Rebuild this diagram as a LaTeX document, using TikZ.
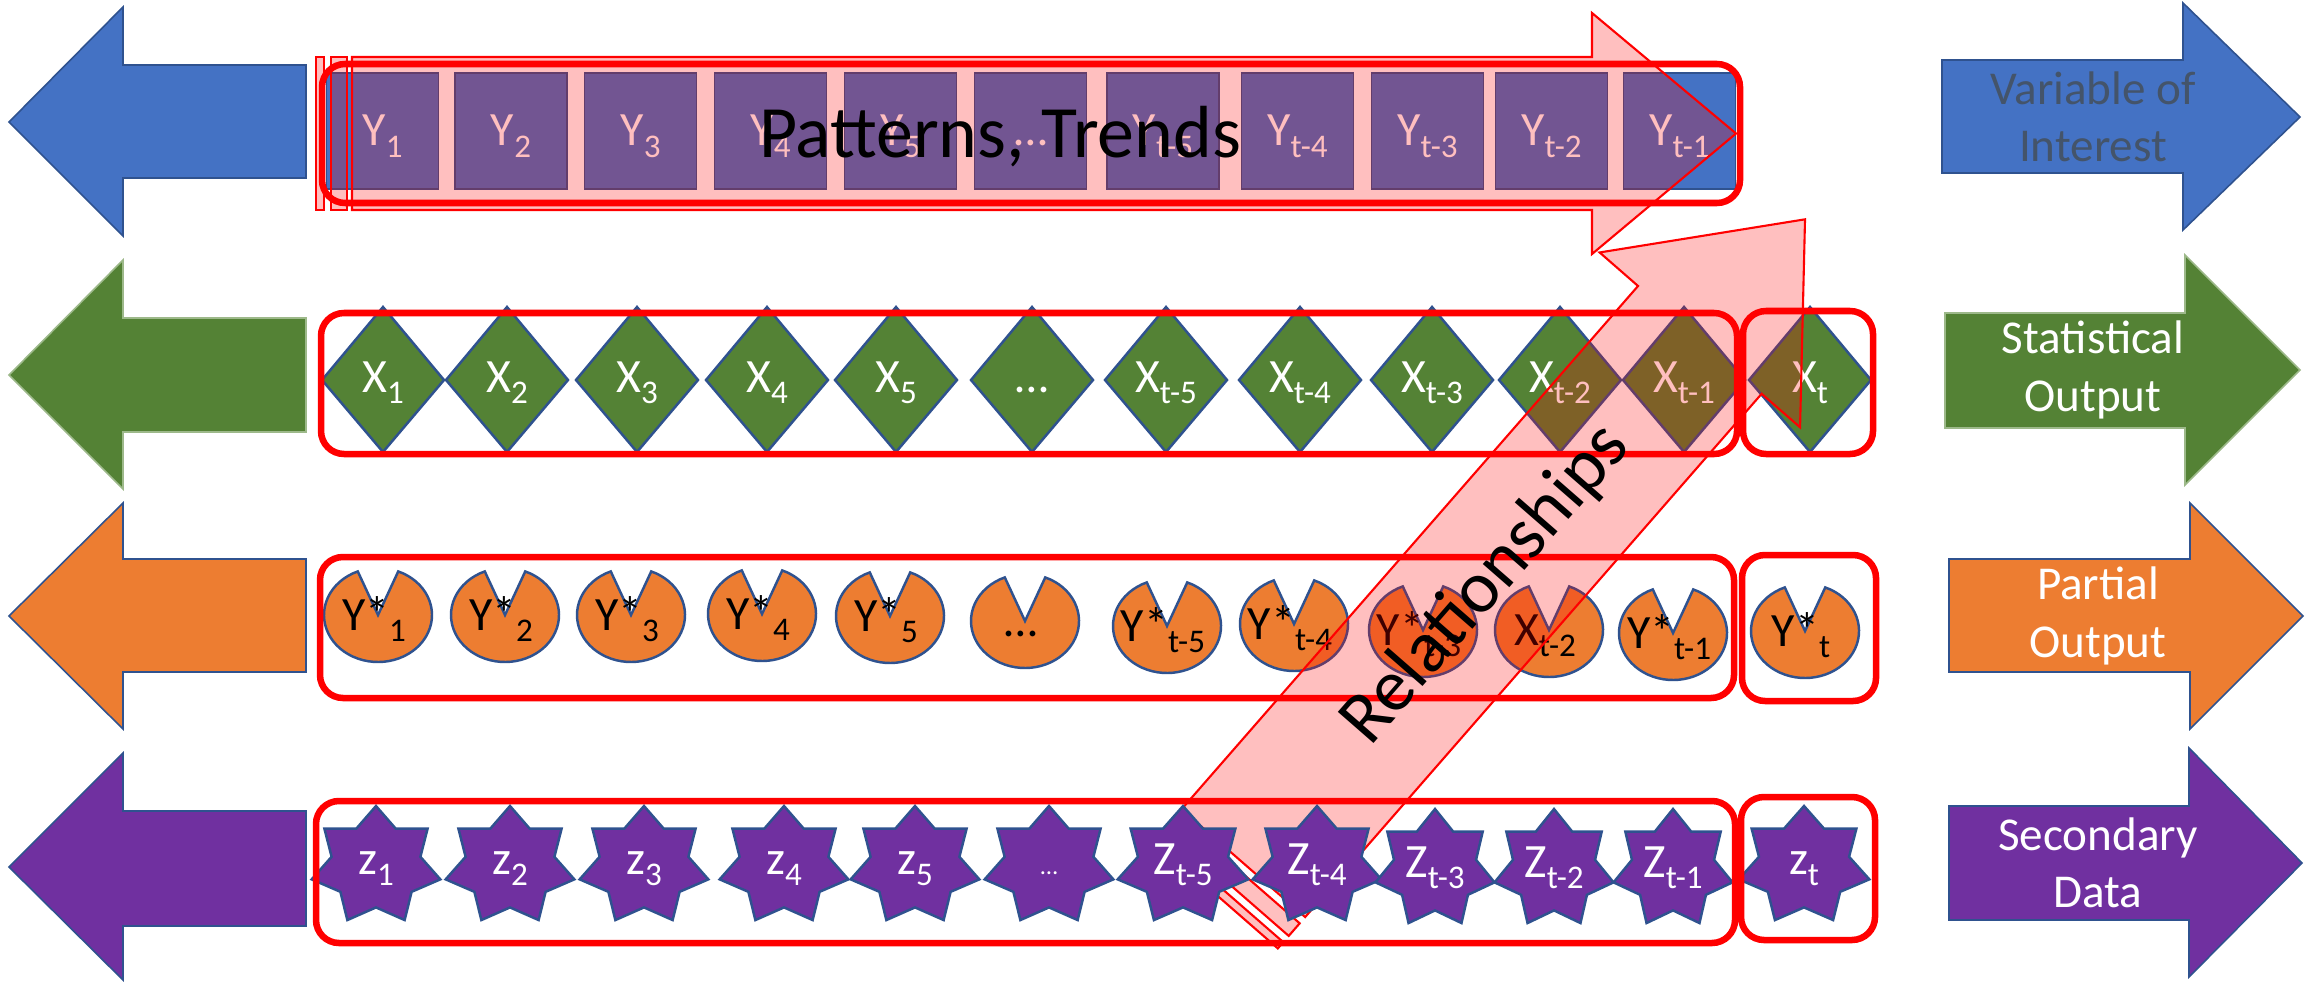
\documentclass[tikz,border=0pt]{standalone}
\usepackage{fontspec}
\setmainfont{Carlito}
\definecolor{cblue}{HTML}{4472C4}
\definecolor{cgreen}{HTML}{548235}
\definecolor{corange}{HTML}{ED7D31}
\definecolor{cpurple}{HTML}{7030A0}
\definecolor{cedge}{HTML}{2F528F}
\definecolor{cgedge}{HTML}{9DB98A}
\definecolor{cslate}{HTML}{44546A}
\newcommand{\sbs}[1]{\raisebox{-0.25em}{\fontsize{9.4pt}{10pt}\selectfont #1}}
\newcommand{\zstar}[4]{%
  \pgfmathsetmacro\zri{0.69*#3}\pgfmathsetmacro\zrj{0.69*#4}%
  \draw[zsty] ({#1},{#2-#4})
    \foreach \k in {0,...,6}{ -- ({#1+\zri*cos(-90+\k*360/7+180/7)},{#2+\zrj*sin(-90+\k*360/7+180/7)})
                              -- ({#1+#3*cos(-90+(\k+1)*360/7)},{#2+#4*sin(-90+(\k+1)*360/7)}) } -- cycle;}
\newcommand{\pacpie}[2]{%
  \draw[ppie] (#1,#2) -- ({#1+54*cos(-68)},{#2+47*sin(-68)})
    arc[start angle=-68,end angle=248,x radius=54,y radius=47] -- cycle;}
\begin{document}
\begin{tikzpicture}[x=0.01cm,y=-0.01cm,
  side/.style={line width=0.45pt,draw=cedge},
  gside/.style={line width=0.45pt,draw=cgedge,fill=cgreen},
  ybox/.style={fill=cblue,draw=cedge,line width=0.45pt},
  xdia/.style={fill=cgreen,draw=cedge,line width=0.7pt},
  ppie/.style={fill=corange,draw=cedge,line width=0.7pt},
  zsty/.style={fill=cpurple,draw=cedge,line width=0.7pt},
  redbox/.style={draw=red,line width=1.85pt,rounded corners=0.23cm},
  pinkarrow/.style={fill=red,fill opacity=0.25,draw=red,draw opacity=1,line width=0.6pt},
  lbl/.style={anchor=base,inner sep=0pt,font=\fontsize{13.6pt}{16pt}\selectfont},
  sidetxt/.style={align=center,inner sep=0pt,font=\fontsize{13.4pt}{16.3pt}\selectfont},
  bigtxt/.style={inner sep=0pt,font=\fontsize{21pt}{25pt}\selectfont}]
\fill[white] (0,0) rectangle (2313,982);
\useasboundingbox (0,0) rectangle (2313,982);

% ---------- side arrows (left) ----------
\draw[side,fill=cblue] (306,65) -- (123,65) -- (123,7) -- (9,122) -- (123,236) -- (123,178) -- (306,178) -- cycle;
\draw[gside] (306,318) -- (123,318) -- (123,260) -- (9,375) -- (123,489) -- (123,432) -- (306,432) -- cycle;
\draw[side,fill=corange] (306,559) -- (123,559) -- (123,503) -- (9,616) -- (123,729) -- (123,672) -- (306,672) -- cycle;
\draw[side,fill=cpurple] (306,811) -- (123,811) -- (123,753) -- (9,867) -- (123,980) -- (123,926) -- (306,926) -- cycle;

% ---------- side arrows (right) ----------
\draw[side,fill=cblue] (1942,60) -- (2183,60) -- (2183,3) -- (2300,117) -- (2183,230) -- (2183,173) -- (1942,173) -- cycle;
\draw[gside] (1945,313) -- (2185,313) -- (2185,255) -- (2300,370) -- (2185,485) -- (2185,428) -- (1945,428) -- cycle;
\draw[side,fill=corange] (1949,559) -- (2190,559) -- (2190,503) -- (2303,616) -- (2190,729) -- (2190,672) -- (1949,672) -- cycle;
\draw[side,fill=cpurple] (1949,806) -- (2189,806) -- (2189,748) -- (2302,863) -- (2189,977) -- (2189,920) -- (1949,920) -- cycle;

\node[sidetxt,text=cslate] (voi) at (2093,117) {Variable of\\Interest};
\node[sidetxt,text=white] (stat) at (2093,370) {Statistical\\Output};
\node[sidetxt,text=white] (part) at (2098,616) {Partial\\Output};
\node[sidetxt,text=white] (sec) at (2098,863) {Secondary\\Data};

% ---------- row 1 : Y boxes ----------
\foreach \cx/\txt [count=\i] in {382.5/{Y\sbs{1}},511/{Y\sbs{2}},640.5/{Y\sbs{3}},770.5/{Y\sbs{4}},900.5/{Y\sbs{5}},1030.5/{…},1163/{Y\sbs{t-5}},1297.5/{Y\sbs{t-4}},1427.5/{Y\sbs{t-3}},1551.5/{Y\sbs{t-2}},1679.5/{Y\sbs{t-1}}}{
  \draw[ybox] (\cx-56,73) rectangle (\cx+56,189);
  \node[lbl,text=white] (y\i) at (\cx,146) {\txt};
}

% ---------- row 2 : X diamonds ----------
\foreach \cx/\txt [count=\i] in {383/{X\sbs{1}},507/{X\sbs{2}},637/{X\sbs{3}},767/{X\sbs{4}},896/{X\sbs{5}},1032/{…},1166/{X\sbs{t-5}},1300/{X\sbs{t-4}},1432/{X\sbs{t-3}},1560/{X\sbs{t-2}},1684/{X\sbs{t-1}},1810/{X\sbs{t}}}{
  \draw[xdia] (\cx,307) -- (\cx+61,380) -- (\cx,452) -- (\cx-61,380) -- cycle;
  \node[lbl,text=white] (x\i) at (\cx,392) {\txt};
}

% ---------- row 3 : partial pies ----------
\foreach \cx/\cy/\txt [count=\i] in {378/615/{Y*\sbs{1}},505/615/{Y*\sbs{2}},631/615/{Y*\sbs{3}},762/614/{Y*\sbs{4}},890/616/{Y*\sbs{5}},1025/621/{…},1167/626/{Y*\sbs{t-5}},1294/624/{Y*\sbs{t-4}},1423/630/{Y*\sbs{t-3}},1549/630/{X\sbs{t-2}},1673/633/{Y*\sbs{t-1}},1805/631/{Y*\sbs{t}}}{
  \pacpie{\cx}{\cy}
  \node[lbl,text=black] (p\i) at (\cx-4,\cy+15) {\txt};
}

% ---------- red frames rows 1-3 ----------
\draw[redbox] (322,64) rectangle (1740,203);
\draw[redbox] (321,313) rectangle (1737,454);
\draw[redbox] (1743,311) rectangle (1873,454);
\draw[redbox] (320,557) rectangle (1734,698);
\draw[redbox] (1742,555) rectangle (1876,701);

% ---------- Patterns, Trends arrow (striped) ----------
\filldraw[pinkarrow] (316,57) rectangle (324,210);
\filldraw[pinkarrow] (331,57) rectangle (347,210);
\filldraw[pinkarrow] (352,57) -- (1592,57) -- (1592,13) -- (1736,133.5) -- (1592,254) -- (1592,210) -- (352,210) -- cycle;

% ---------- Relationships arrow (striped, rotated) ----------
\begin{scope}[shift={(1216,894.5)},rotate=48.9]
\filldraw[pinkarrow] (0,-82) rectangle (8.3,82);
\filldraw[pinkarrow] (16.6,-82) rectangle (33.3,82);
\filldraw[pinkarrow] (41.6,-82) -- (736,-82) -- (736,-133) -- (896,0) -- (736,133) -- (736,82) -- (41.6,82) -- cycle;
\coordinate (relc) at (411,0);
\end{scope}

% ---------- row 4 : stars ----------
\foreach \cx/\cy/\rx/\txt [count=\i] in {376/866/66/{z\sbs{1}},510/866/66/{z\sbs{2}},644/866/66/{z\sbs{3}},784/866/66/{z\sbs{4}},915/866/66/{z\sbs{5}},1049/866/66/{\fontsize{7pt}{8pt}\selectfont …},1183/866/67/{Z\sbs{t-5}},1317/866/66/{Z\sbs{t-4}},1435/869/61/{Z\sbs{t-3}},1554/869/61/{Z\sbs{t-2}},1673/869/61/{Z\sbs{t-1}},1804/866/67/{z\sbs{t}}}{
  \zstar{\cx}{\cy}{\rx}{60}
  \node[lbl,text=white] (z\i) at (\cx,\cy+8) {\txt};
}
\draw[redbox] (316,801) rectangle (1735,943);
\draw[redbox] (1741,797) rectangle (1875,940);

% ---------- big texts ----------
\node[bigtxt,anchor=base] (pat) at (1000,158) {Patterns, Trends};
\node[bigtxt,rotate=48.9] (rel) at (relc) {Relationships};
\end{tikzpicture}
\end{document}
